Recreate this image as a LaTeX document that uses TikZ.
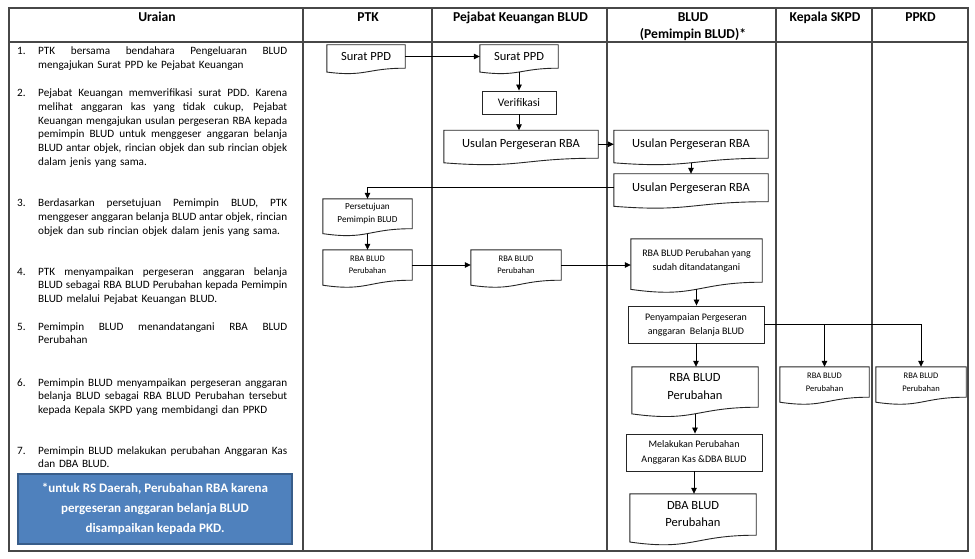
\documentclass[tikz,border=0pt]{standalone}
\usepackage{fontspec}
\setmainfont{Carlito}
\usetikzlibrary{arrows.meta,calc}
\newcommand\jl[1]{{\spaceskip=0pt\xspaceskip=0pt\makebox[249pt][s]{#1}}}
\begin{document}
\begin{tikzpicture}[x=1pt,y=-1pt,
  grid/.style={draw=black!72, line width=1.2pt},
  doc/.style={inner sep=0pt, align=center},
  proc/.style={draw=black!85, line width=0.9pt, inner sep=0pt, align=center},
  docline/.style={draw=black!85, line width=0.9pt},
  flow/.style={draw=black, line width=0.8pt, -{Triangle[length=6pt,width=5.5pt]}},
  lst/.style={anchor=base west, inner sep=0pt, align=left, text width=250pt, font=\fontsize{11.2}{13.7}\selectfont},
  num/.style={anchor=base west, inner sep=0pt, font=\fontsize{11.2}{13.7}\selectfont},
  hdr/.style={anchor=base, inner sep=0pt, font=\bfseries\fontsize{13.6}{16.7}\selectfont},
  note/.style={fill=noteblue, draw=noteedge, line width=1.5pt, inner sep=0pt, text=white, align=center, font=\bfseries\fontsize{13}{20}\selectfont},
]
\definecolor{noteblue}{HTML}{4F81BD}
\definecolor{noteedge}{HTML}{385D8A}
\useasboundingbox (0,0) rectangle (975,559);
\fill[white] (0,0) rectangle (975,559);

% table
\draw[grid] (9,8) rectangle (968,551);
\draw[grid] (9,42) -- (968,42);
\foreach \x in {303,432,607,776,872} \draw[grid] (\x,8) -- (\x,551);

% headers
\node[hdr] (h0) at (157,21.7) {Uraian};
\node[hdr] (h1) at (368,21.7) {PTK};
\node[hdr] (h2) at (520.5,21.7) {Pejabat Keuangan BLUD};
\node[hdr] (h3a) at (693,21.7) {BLUD};
\node[hdr] (h3b) at (693,38.3) {(Pemimpin BLUD)*};
\node[hdr] (h4) at (825,21.7) {Kepala SKPD};
\node[hdr] (h5) at (920.5,21.7) {PPKD};

% list
\node[num] (n1) at (17,55) {1.};
\node[lst] (t1) at (38,55) {\jl{PTK bersama bendahara Pengeluaran BLUD}\\mengajukan Surat PPD ke Pejabat Keuangan};
\node[num] (n2) at (17,96.7) {2.};
\node[lst] (t2) at (38,96.7) {\jl{Pejabat Keuangan memverifikasi surat PDD. Karena}\\\jl{melihat anggaran kas yang tidak cukup, Pejabat}\\\jl{Keuangan mengajukan usulan pergeseran RBA kepada}\\\jl{pemimpin BLUD untuk menggeser anggaran belanja}\\\jl{BLUD antar objek, rincian objek dan sub rincian objek}\\dalam jenis yang sama.};
\node[num] (n3) at (17,206.7) {3.};
\node[lst] (t3) at (38,206.7) {\jl{Berdasarkan persetujuan Pemimpin BLUD, PTK}\\\jl{menggeser anggaran belanja BLUD antar objek, rincian}\\objek dan sub rincian objek dalam jenis yang sama.};
\node[num] (n4) at (17,275) {4.};
\node[lst] (t4) at (38,275) {\jl{PTK menyampaikan pergeseran anggaran belanja}\\\jl{BLUD sebagai RBA BLUD Perubahan kepada Pemimpin}\\BLUD melalui Pejabat Keuangan BLUD.};
\node[num] (n5) at (17,330) {5.};
\node[lst] (t5) at (38,330) {\jl{Pemimpin BLUD menandatangani RBA BLUD}\\Perubahan};
\node[num] (n6) at (17,386) {6.};
\node[lst] (t6) at (38,386) {\jl{Pemimpin BLUD menyampaikan pergeseran anggaran}\\\jl{belanja BLUD sebagai RBA BLUD Perubahan tersebut}\\kepada Kepala SKPD yang membidangi dan PPKD};
\node[num] (n7) at (17,454) {7.};
\node[lst] (t7) at (38,454) {\jl{Pemimpin BLUD melakukan perubahan Anggaran Kas}\\dan DBA BLUD.};

\node[note, minimum width=274pt, minimum height=70pt] (nb) at (155,509) {*untuk RS Daerah, Perubahan RBA karena\\pergeseran anggaran belanja BLUD\\disampaikan kepada PKD.};

% documents
\node[doc, minimum width=78pt, minimum height=23pt, font=\fontsize{12.5}{15}\selectfont] (sp1) at (366,56.5) {Surat PPD};
\node[doc, minimum width=78pt, minimum height=23pt, font=\fontsize{12.5}{15}\selectfont] (sp2) at (519,56.5) {Surat PPD};
\node[doc, minimum width=154pt, minimum height=27.5pt, font=\fontsize{12.5}{15}\selectfont] (usp) at (521,144.25) {Usulan Pergeseran RBA};
\node[doc, minimum width=154pt, minimum height=27.5pt, font=\fontsize{12.5}{15}\selectfont] (ub1) at (691,144.25) {Usulan Pergeseran RBA};
\node[doc, minimum width=154pt, minimum height=27.5pt, font=\fontsize{12.5}{15}\selectfont] (ub2) at (691,187.75) {Usulan Pergeseran RBA};
\node[doc, minimum width=89pt, minimum height=29.5pt, font=\fontsize{9.2}{12.7}\selectfont] (pers) at (367.5,213.75) {Persetujuan\\Pemimpin BLUD};
\node[doc, minimum width=89pt, minimum height=30pt, font=\fontsize{8.5}{11.7}\selectfont] (rp) at (367.5,265) {RBA BLUD\\Perubahan};
\node[doc, minimum width=90pt, minimum height=30pt, font=\fontsize{8.5}{11.7}\selectfont] (rj) at (516,265) {RBA BLUD\\Perubahan};
\node[doc, minimum width=131pt, minimum height=43pt, font=\fontsize{10}{14}\selectfont] (rs) at (696.5,260.5) {RBA BLUD Perubahan yang\\sudah ditandatangani};
\node[doc, minimum width=89pt, minimum height=30pt, font=\fontsize{8.5}{13}\selectfont] (rk) at (824.5,382) {RBA BLUD\\Perubahan};
\node[doc, minimum width=90pt, minimum height=30pt, font=\fontsize{8.5}{13}\selectfont] (rpp) at (921,382) {RBA BLUD\\Perubahan};
\node[doc, minimum width=126pt, minimum height=40pt, font=\fontsize{12.5}{18}\selectfont] (rb) at (695,387) {RBA BLUD\\Perubahan};
\node[doc, minimum width=126pt, minimum height=41pt, font=\fontsize{12.5}{17}\selectfont] (dba) at (693,514.5) {DBA BLUD\\Perubahan};

\foreach \n in {sp1,sp2,usp,ub1,ub2,pers,rp,rj,rs,rk,rpp,rb,dba} {
  \draw[docline] (\n.north west) -- (\n.north east) -- (\n.south east)
    .. controls (\n.south) and ($(\n.south)!-0.381!(\n.north)$) ..
    ($(\n.south west)!-0.165!(\n.north west)$) -- cycle;
  \coordinate (\n-b) at ($(\n.south)!-0.163!(\n.north)$);
}

% processes
\node[proc, minimum width=74pt, minimum height=23pt, font=\fontsize{11.5}{14}\selectfont] (ver) at (519,102.5) {Verifikasi};
\node[proc, minimum width=136pt, minimum height=37pt, font=\fontsize{10}{14}\selectfont] (pen) at (696,324.5) {Penyampaian Pergeseran\\anggaran\ \ Belanja BLUD};
\node[proc, minimum width=136pt, minimum height=37pt, font=\fontsize{10}{15}\selectfont] (mel) at (694,452.5) {Melakukan Perubahan\\Anggaran Kas \&DBA BLUD};

% connectors
\draw[flow] (sp1.east) -- (sp2.west);
\draw[flow] (sp2-b) -- (sp2-b |- ver.north);
\draw[flow] (ver.south) -- (ver.south |- usp.north);
\draw[flow] (usp.east) -- (usp.east -| ub1.west);
\draw[flow] (ub1-b) -- (ub1-b |- ub2.north);
\draw[flow] (ub2.west) -| (pers.north);
\draw[flow] (pers-b) -- (pers-b |- rp.north);
\draw[flow] (rp.east) -- (rp.east -| rj.west);
\draw[flow] (rj.east) -- (rj.east -| rs.west);
\draw[flow] (rs-b) -- (rs-b |- pen.north);
\draw[flow] (pen.east) -| (rpp.north);
\draw[flow] (pen.east -| rk.north) -- (rk.north);
\draw[flow] (pen.south) -- (pen.south |- rb.north);
\draw[flow] (rb-b) -- (rb-b |- mel.north);
\draw[flow] (mel.south) -- (mel.south |- dba.north);
\end{tikzpicture}
\end{document}
